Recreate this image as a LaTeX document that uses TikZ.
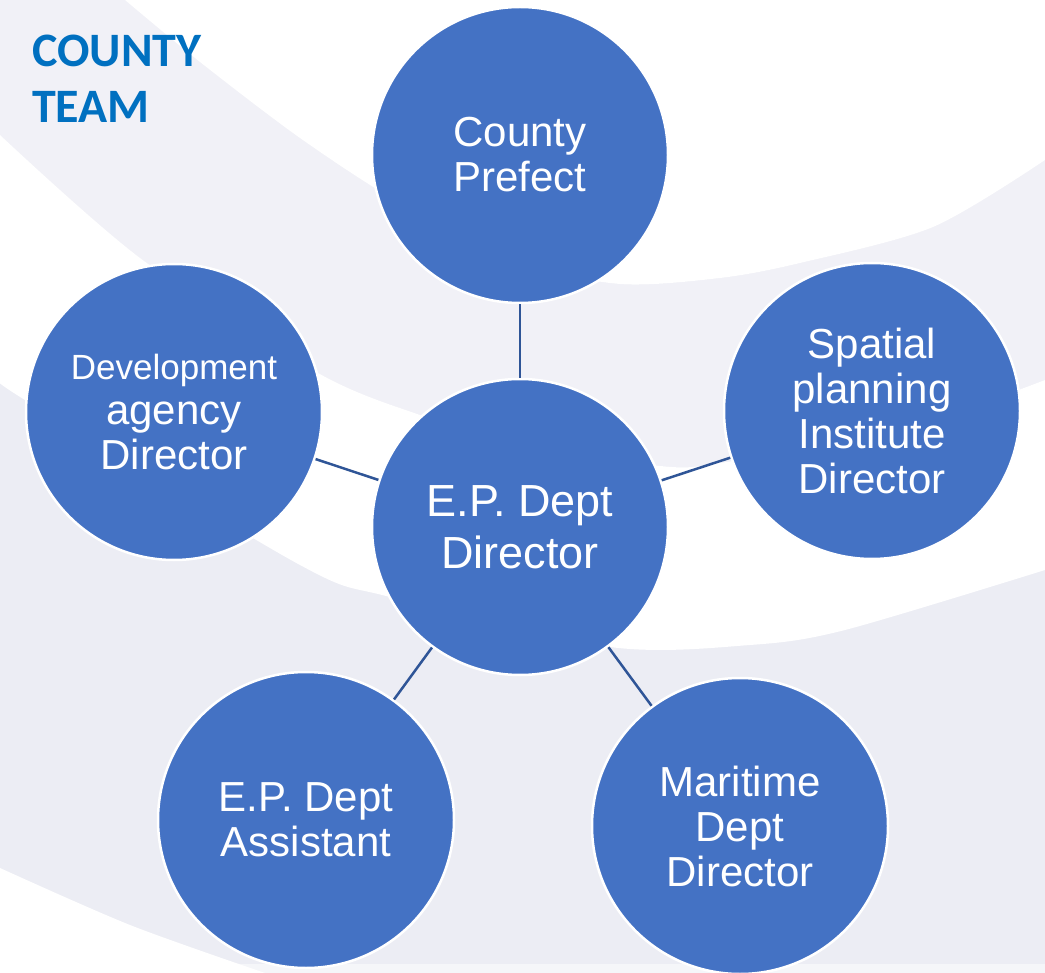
\documentclass[tikz,border=0pt]{standalone}
\usepackage{fontspec}
\newfontfamily\circfont{Liberation Sans}
\newfontfamily\titlefont{Carlito}
\definecolor{bgA}{HTML}{F1F1F7}
\definecolor{bgD}{HTML}{ECEDF4}
\definecolor{circfill}{HTML}{4472C4}
\definecolor{linkcol}{HTML}{2F5597}
\definecolor{titlecol}{HTML}{0070C0}
\begin{document}
\begin{tikzpicture}[x=1pt,y=-1pt,
  person/.style={circle, minimum size=296pt, inner sep=0pt, fill=circfill, draw=white, line width=2.5pt, text=white, align=center, font=\circfont\fontsize{42}{45}\selectfont},
  link/.style={draw=linkcol, line width=2.5pt},
  titletext/.style={anchor=base west, inner sep=0pt, text=titlecol, font=\titlefont\bfseries\fontsize{48}{56}\selectfont}]
\useasboundingbox (0,0) rectangle (1045,973);
% background
\fill[bgD] (0,0) rectangle (1045,973);
\fill[bgA] plot[smooth] coordinates {(125,0) (200,62) (300,138) (400,203) (520,262) (620,284) (720,278) (800,263) (933,227) (1045,160)}
  -- (1045,380)
  -- plot[smooth] coordinates {(1045,380) (900,430) (720,463) (660,466) (520,445) (420,415) (318,373) (140,258) (0,135)}
  -- (0,0) -- cycle;
\fill[white] plot[smooth] coordinates {(125,0) (200,62) (300,138) (400,203) (520,262) (620,284) (720,278) (800,263) (933,227) (1045,160)}
  -- (1045,0) -- cycle;
\fill[white] plot[smooth] coordinates {(0,135) (140,258) (318,373) (420,415) (520,445) (660,466) (720,463) (900,430) (1045,380)}
  -- (1045,570)
  -- plot[smooth] coordinates {(1045,570) (845,630) (750,645) (610,647) (390,597) (300,565) (25,400) (0,380)}
  -- cycle;
\fill[white] plot[smooth] coordinates {(0,868) (130,925) (265,973)} -- (0,973) -- cycle;
\fill[white, opacity=0.5] (0,964) rectangle (1045,973);
% title
\node[titletext] (title1) at (32,67) {COUNTY};
\node[titletext] (title2) at (32,123) {TEAM};
% circles
\node[person] (pref) at (520,155) {County\\Prefect};
\node[person] (dev) at (174,412) {{\fontsize{35}{45}\selectfont Development}\\agency\\Director};
\node[person] (spat) at (872,411) {Spatial\\planning\\Institute\\Director};
\node[person, font=\circfont\fontsize{45}{52}\selectfont] (ep) at (520,527) {E.P. Dept\\Director};
\node[person] (asst) at (306,820) {E.P. Dept\\Assistant};
\node[person] (mar) at (740,826) {Maritime\\Dept\\Director};
% connectors
\draw[link] (ep) -- (pref);
\draw[link] (ep) -- (dev);
\draw[link] (ep) -- (spat);
\draw[link] (ep) -- (asst);
\draw[link] (ep) -- (mar);
\end{tikzpicture}
\end{document}
